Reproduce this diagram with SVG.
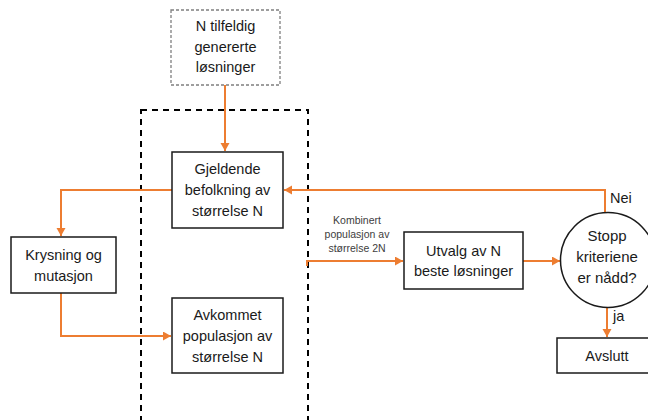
<svg xmlns="http://www.w3.org/2000/svg" width="648" height="420" viewBox="0 0 648 420">
  <style>
    .box { fill: #ffffff; stroke: #1a1a1a; stroke-width: 1.5; }
    .seed { fill: #ffffff; stroke: #7f7f7f; stroke-width: 1.3; stroke-dasharray: 3 2; }
    .frame { fill: none; stroke: #000000; stroke-width: 2; stroke-dasharray: 6 5; }
    .flow { fill: none; stroke: #ED7D31; stroke-width: 2; }
    .t { font-family: "Liberation Sans", Arial, sans-serif; font-size: 14.5px; fill: #1a1a1a; text-anchor: middle; }
    .c { font-size: 15px; }
    .lbl { font-family: "Liberation Sans", Arial, sans-serif; font-size: 14.5px; fill: #1a1a1a; }
    .small { font-family: "Liberation Sans", Arial, sans-serif; font-size: 10.5px; fill: #404040; text-anchor: middle; }
  </style>
  <defs>
    <marker id="arrow" markerUnits="userSpaceOnUse" markerWidth="9" markerHeight="10" refX="8" refY="4.5" orient="auto">
      <path d="M0,0 L8,4.5 L0,9 z" fill="#ED7D31"/>
    </marker>
  </defs>

  <rect width="648" height="420" fill="#ffffff"/>

  <!-- population frame -->
  <rect class="frame" x="141" y="110" width="167" height="330"/>

  <!-- connectors -->
  <g id="connectors">
    <path class="flow" d="M225,85 V151" marker-end="url(#arrow)"/>
    <path class="flow" d="M172,190 H61 V236" marker-end="url(#arrow)"/>
    <path class="flow" d="M61,293 V336 H171" marker-end="url(#arrow)"/>
    <path class="flow" d="M605,213 V190 H284" marker-end="url(#arrow)"/>
    <path class="flow" d="M307,266 V261 H403" marker-end="url(#arrow)"/>
    <path class="flow" d="M523,261 H560" marker-end="url(#arrow)"/>
    <path class="flow" d="M607,308 V337" marker-end="url(#arrow)"/>
    <text class="small" x="357" y="223.5">Kombinert</text>
    <text class="small" x="357" y="237.5">populasjon av</text>
    <text class="small" x="357" y="251.5">størrelse 2N</text>
    <text class="lbl" x="610" y="203">Nei</text>
    <text class="lbl" x="613" y="321">ja</text>
  </g>

  <g id="seed">
    <rect class="seed" x="171" y="10" width="109" height="75"/>
    <text class="t" x="225.5" y="31">N tilfeldig</text>
    <text class="t" x="225.5" y="51.5">genererte</text>
    <text class="t" x="225.5" y="72">løsninger</text>
  </g>

  <g id="current">
    <rect class="box" x="172" y="152" width="111" height="76"/>
    <text class="t" x="227.5" y="174">Gjeldende</text>
    <text class="t" x="227.5" y="195">befolkning av</text>
    <text class="t" x="227.5" y="216">størrelse N</text>
  </g>

  <g id="crossover">
    <rect class="box" x="11" y="237" width="105" height="56"/>
    <text class="t" x="63.5" y="260">Krysning og</text>
    <text class="t" x="63.5" y="281">mutasjon</text>
  </g>

  <g id="offspring">
    <rect class="box" x="172" y="298" width="111" height="75"/>
    <text class="t" x="227.5" y="320">Avkommet</text>
    <text class="t" x="227.5" y="341">populasjon av</text>
    <text class="t" x="227.5" y="362">størrelse N</text>
  </g>

  <g id="selection">
    <rect class="box" x="404" y="232" width="119" height="57"/>
    <text class="t" x="463.5" y="255.5">Utvalg av N</text>
    <text class="t" x="463.5" y="276">beste løsninger</text>
  </g>

  <g id="stop-check">
    <circle class="box" cx="608" cy="260" r="47.5"/>
    <text class="t c" x="607" y="241">Stopp</text>
    <text class="t c" x="607" y="262">kriteriene</text>
    <text class="t c" x="607" y="283">er nådd?</text>
  </g>

  <g id="finish">
    <rect class="box" x="557" y="338" width="100" height="35"/>
    <text class="t" x="607" y="361">Avslutt</text>
  </g>
</svg>
